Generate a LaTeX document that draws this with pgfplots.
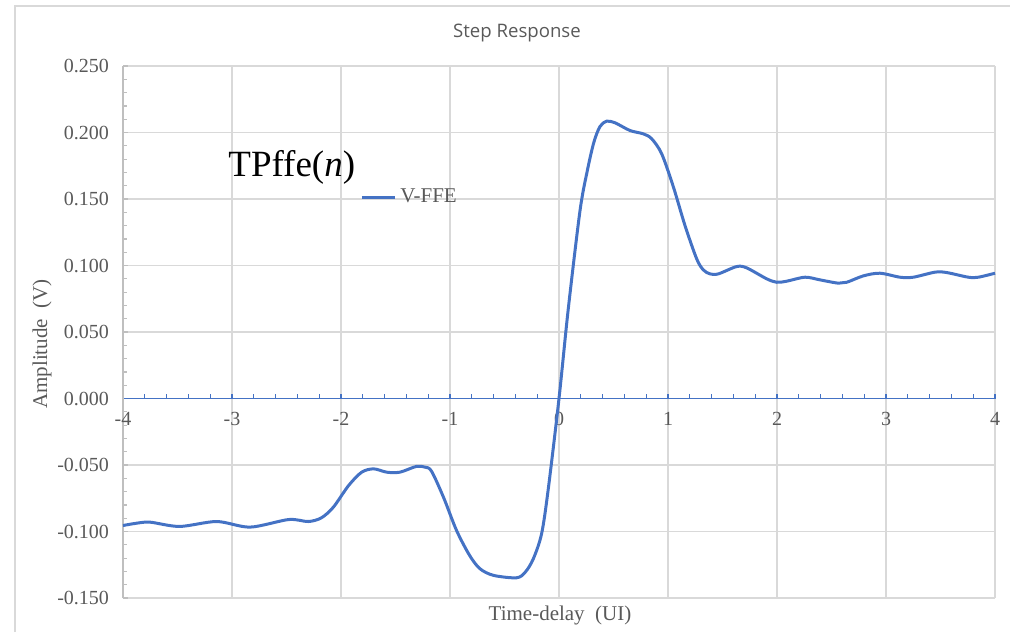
\documentclass[border=0pt]{standalone}
\usepackage{fontspec}
\setmainfont{Liberation Serif}
\newfontfamily\titlefont{Open Sans}
\usepackage{pgfplots}
\pgfplotsset{compat=1.18}

\definecolor{xlblue}{HTML}{4472C4}
\definecolor{txtgray}{HTML}{595959}
\definecolor{gridgray}{HTML}{D9D9D9}
\definecolor{axgray}{HTML}{BFBFBF}

\begin{document}
\begin{tikzpicture}
% picture is 1010x632 px, 1 px = 0.5pt, axis box origin at px (123,598)
\useasboundingbox (-61.5pt,-17pt) rectangle (443.5pt,299pt);
\draw[gridgray, line width=0.6pt] (-54pt,-17pt) -- (-54pt,296pt) -- (443.5pt,296pt);

\begin{axis}[
    scale only axis,
    width=436pt, height=266pt,
    xmin=-4, xmax=4,
    ymin=-0.15, ymax=0.25,
    axis x line=middle,
    axis y line=left,
    axis line style={-},
    x axis line style={xlblue, line width=0.8pt},
    y axis line style={axgray, line width=0.6pt},
    hide obscured x ticks=false,
    hide obscured y ticks=false,
    xtick={-4,-3,-2,-1,0,1,2,3,4},
    ytick={-0.15,-0.1,-0.05,0,0.05,0.1,0.15,0.2,0.25},
    minor x tick num=4,
    minor y tick num=4,
    tick align=inside,
    major tick length=2.5pt,
    minor tick length=2.2pt,
    xtick style={xlblue, line width=0.6pt},
    minor x tick style={xlblue, line width=0.6pt},
    ytick style={axgray, line width=0.6pt},
    minor y tick style={axgray, line width=0.6pt},
    grid=major,
    major grid style={gridgray, line width=0.6pt},
    scaled y ticks=false,
    tick label style={font=\fontsize{10}{11}\selectfont, text=txtgray},
    /pgf/number format/assume math mode=true,
    yticklabel style={xshift=-3.5pt, /pgf/number format/.cd, fixed, fixed zerofill, precision=3},
    xticklabel style={yshift=-3.5pt},
    legend style={at={(axis cs:-1.826,0.1511)}, anchor=west, draw=none, fill=none,
        inner sep=0pt, font=\fontsize{10.5}{12}\selectfont, text=txtgray},
    legend image code/.code={\draw[#1] (0pt,0pt) -- (16.5pt,0pt);},
    clip=false,
]
\addplot[xlblue, line width=1.5pt, smooth] coordinates {
    (-4.0,-0.0955) (-3.87,-0.0937) (-3.75,-0.0930) (-3.48,-0.0962)
    (-3.14,-0.0925) (-2.835,-0.0967) (-2.48,-0.0910) (-2.30,-0.0925)
    (-2.18,-0.0897) (-2.07,-0.0817) (-1.93,-0.0654) (-1.81,-0.0554)
    (-1.70,-0.0529) (-1.58,-0.0554) (-1.46,-0.0554) (-1.31,-0.0511)
    (-1.23,-0.0516) (-1.17,-0.0546) (-1.06,-0.0742) (-0.94,-0.0992)
    (-0.82,-0.1180) (-0.725,-0.1280) (-0.60,-0.1330) (-0.39,-0.1348)
    (-0.31,-0.1306) (-0.236,-0.1206) (-0.16,-0.1018) (-0.10,-0.0690)
    (0.0,0.0) (0.085,0.0674) (0.193,0.1414) (0.26,0.1714)
    (0.32,0.1927) (0.376,0.2045) (0.437,0.2085) (0.514,0.2073)
    (0.651,0.2015) (0.773,0.1990) (0.85,0.1953) (0.942,0.1840)
    (1.05,0.1589) (1.156,0.1300) (1.263,0.1050) (1.324,0.0967)
    (1.385,0.0937) (1.462,0.0937) (1.63,0.0992) (1.722,0.0982)
    (1.905,0.0900) (1.997,0.0874) (2.089,0.0882) (2.257,0.0912)
    (2.394,0.0892) (2.563,0.0867) (2.64,0.0874) (2.792,0.0922)
    (2.945,0.0942) (3.128,0.0912) (3.25,0.0912) (3.45,0.0950)
    (3.557,0.0947) (3.755,0.0912) (3.847,0.0912) (4.0,0.0942)
};
\addlegendentry{V-FFE}
\end{axis}

\node[font=\titlefont\fontsize{9.3}{11}\selectfont, text=txtgray] at (197pt,282.5pt) {Step Response};
\node[rotate=90, font=\fontsize{10.5}{12}\selectfont, text=txtgray] at (-40.5pt,127pt) {Amplitude\ \ (V)};
\node[anchor=base, font=\fontsize{10.5}{12}\selectfont, text=txtgray] at (218.5pt,-11pt) {Time-delay\ \ (UI)};
\node[anchor=base west, inner sep=0pt, font=\fontsize{18.5}{22}\selectfont] at (52.5pt,210.5pt) {TPffe(\textit{n})};
\end{tikzpicture}
\end{document}
